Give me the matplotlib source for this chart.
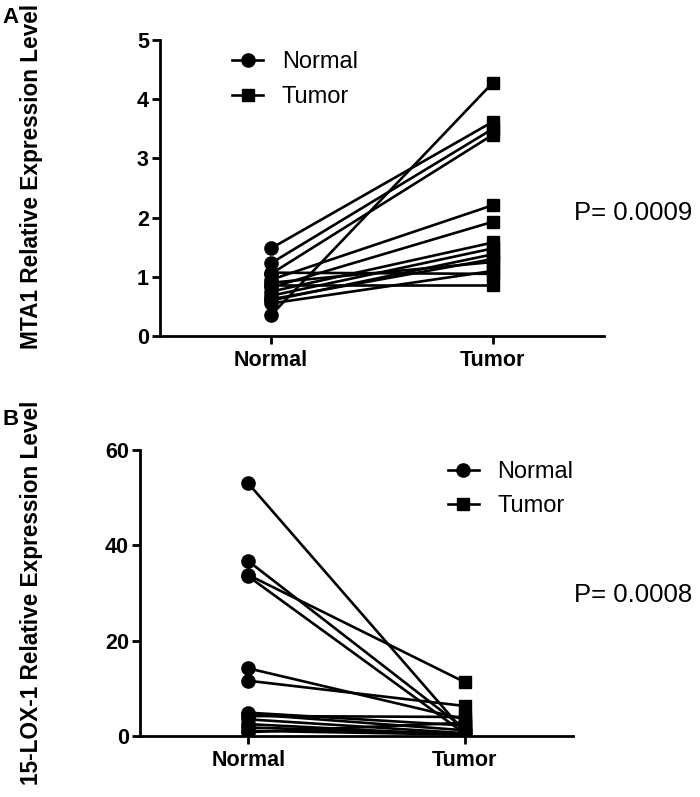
import matplotlib
matplotlib.use('Agg')
import matplotlib.pyplot as plt
from matplotlib.lines import Line2D

plt.rcParams['font.family'] = ['Liberation Sans', 'DejaVu Sans']

groups = ['Normal', 'Tumor']

# panel A: MTA1, paired samples
mta1_normal = [1.48, 1.23, 1.05, 0.35, 0.95, 0.82, 0.75, 0.68, 0.60, 1.07, 0.87, 0.62, 0.55, 0.90]
mta1_tumor = [3.62, 3.50, 3.40, 4.28, 2.21, 1.93, 1.58, 1.48, 1.38, 1.05, 0.87, 1.30, 1.10, 1.25]

# panel B: 15-LOX-1, paired samples
lox_normal = [53.0, 36.7, 33.8, 33.5, 14.2, 11.6, 4.9, 4.6, 4.2, 3.5, 1.8, 1.1, 0.8, 2.5]
lox_tumor = [0.8, 1.5, 11.3, 0.5, 3.5, 6.3, 2.2, 1.2, 4.0, 0.6, 0.4, 0.3, 2.8, 0.2]

fig = plt.figure(figsize=(7, 7.97), dpi=100)
axA = fig.add_axes([0.2286, 0.5784, 0.634, 0.3714])
axB = fig.add_axes([0.2, 0.0765, 0.6186, 0.3589])


def draw_pairs(ax, normal, tumor, yticks):
    for n, t in zip(normal, tumor):
        ax.plot([0, 1], [n, t], color='black', lw=1.9, zorder=2)
    ax.plot([0] * len(normal), normal, 'o', color='black', ms=9.5, zorder=3)
    ax.plot([1] * len(tumor), tumor, 's', color='black', ms=9, zorder=3)
    ax.set_xlim(-0.5, 1.5)
    ax.set_ylim(yticks[0], yticks[-1])
    ax.set_xticks([0, 1])
    ax.set_xticklabels(groups, fontsize=15.5, fontweight='bold')
    ax.set_yticks(yticks)
    ax.set_yticklabels([str(v) for v in yticks], fontsize=15.5, fontweight='bold')
    for s in ['top', 'right']:
        ax.spines[s].set_visible(False)
    for s in ['left', 'bottom']:
        ax.spines[s].set_linewidth(2)
    ax.tick_params(width=2, length=6, direction='out')
    ax.tick_params(axis='x', pad=4)
    ax.tick_params(axis='y', pad=2)
    handles = [Line2D([], [], color='black', lw=1.9, marker='o', ms=9.5),
               Line2D([], [], color='black', lw=1.9, marker='s', ms=9)]
    return handles


hA = draw_pairs(axA, mta1_normal, mta1_tumor, [0, 1, 2, 3, 4, 5])
axA.legend(hA, groups, loc='upper left', bbox_to_anchor=(0.115, 1.033), frameon=False,
           fontsize=17, handlelength=1.3, handletextpad=0.8, labelspacing=0.55)

hB = draw_pairs(axB, lox_normal, lox_tumor, [0, 20, 40, 60])
axB.legend(hB, groups, loc='upper left', bbox_to_anchor=(0.662, 1.035), frameon=False,
           fontsize=17, handlelength=1.3, handletextpad=0.8, labelspacing=0.5)

fig.text(0.045, 0.779, 'MTA1 Relative Expression Level', rotation=90, ha='center', va='center',
         fontsize=16.3, fontweight='bold')
fig.text(0.045, 0.256, '15-LOX-1 Relative Expression Level', rotation=90, ha='center', va='center',
         fontsize=16.3, fontweight='bold')

fig.text(0.82, 0.733, 'P= 0.0009', fontsize=18.5, ha='left', va='center')
fig.text(0.82, 0.254, 'P= 0.0008', fontsize=18.5, ha='left', va='center')

fig.text(0.003, 0.978, 'A', fontsize=16, fontweight='bold', ha='left', va='center')
fig.text(0.003, 0.474, 'B', fontsize=16, fontweight='bold', ha='left', va='center')

fig.savefig('out.png', dpi=100)
